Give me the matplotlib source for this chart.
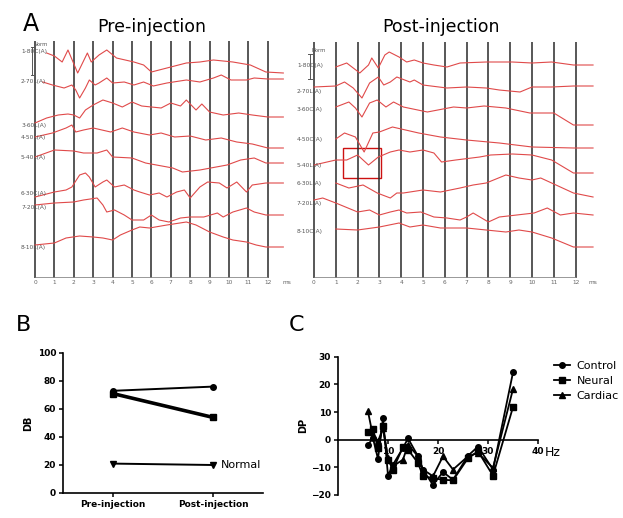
import matplotlib.pyplot as plt
from matplotlib.patches import Rectangle

# ---- panel A : traces (t in ms, display row position, downward) ----
pre_labels = ["1-80C(A)", "2-70L(A)", "3-60L(A)", "4-50L(A)", "5-40L(A)", "6-30C(A)", "7-20L(A)", "8-10L(A)"]
pre_label_y = [52, 81, 126, 137, 157, 194, 207, 247]
pre_traces = [
    [(0.6, 53), (1.0, 56), (1.4, 62), (1.7, 50), (2.2, 73), (2.7, 53), (2.9, 62), (3.3, 55), (3.7, 50), (4.2, 58),
     (5.1, 62), (5.6, 65), (6.0, 72), (7.0, 67), (7.8, 63), (8.5, 62), (9.2, 60), (10.2, 62), (11.1, 65), (11.9, 72), (12.8, 73)],
    [(0.4, 82), (0.9, 85), (1.5, 88), (1.9, 85), (2.1, 90), (2.3, 98), (2.6, 88), (2.8, 80), (3.1, 85), (3.3, 83),
     (3.7, 78), (4.0, 83), (4.6, 82), (5.1, 85), (5.6, 82), (6.1, 86), (6.8, 83), (7.8, 80), (8.5, 82), (9.2, 78),
     (9.6, 75), (10.1, 80), (10.9, 80), (11.3, 78), (12.0, 79), (12.8, 79)],
    [(0.0, 123), (0.6, 118), (1.2, 115), (1.7, 114), (2.0, 115), (2.3, 118), (2.6, 110), (3.0, 105), (3.5, 100), (4.0, 103),
     (4.5, 107), (5.0, 102), (5.5, 106), (6.0, 107), (6.5, 108), (7.0, 103), (7.5, 106), (7.8, 100), (8.3, 110), (8.6, 104),
     (9.0, 112), (9.7, 115), (10.5, 113), (11.2, 115), (12.0, 117), (12.8, 117)],
    [(0.0, 137), (0.9, 133), (1.6, 128), (1.9, 125), (2.1, 132), (2.5, 130), (3.0, 128), (3.9, 132), (4.5, 128), (5.1, 132),
     (5.9, 135), (6.5, 133), (7.2, 137), (8.0, 136), (8.8, 140), (9.6, 138), (10.4, 142), (11.2, 144), (12.0, 148), (12.8, 148)],
    [(0.0, 157), (1.0, 150), (2.0, 151), (2.5, 153), (3.2, 153), (3.7, 150), (4.0, 157), (5.0, 158), (5.7, 163), (7.1, 168),
     (7.6, 172), (8.5, 170), (9.9, 165), (10.6, 160), (11.3, 158), (11.9, 163), (12.8, 163)],
    [(0.0, 197), (1.0, 192), (1.6, 190), (1.9, 187), (2.3, 175), (2.6, 173), (2.8, 177), (3.1, 187), (3.5, 182), (3.7, 180),
     (4.1, 187), (4.6, 185), (5.1, 190), (5.4, 192), (5.9, 195), (6.4, 193), (6.8, 197), (7.3, 192), (7.7, 190), (8.0, 198),
     (8.5, 187), (8.9, 182), (9.5, 183), (9.9, 188), (10.4, 182), (10.9, 192), (11.2, 185), (11.9, 183), (12.8, 183)],
    [(0.0, 205), (1.0, 203), (2.0, 202), (2.5, 200), (3.2, 198), (3.5, 205), (3.7, 212), (4.1, 210), (4.6, 215), (5.0, 220),
     (5.6, 220), (6.0, 215), (6.4, 220), (6.9, 222), (7.5, 218), (8.0, 217), (8.7, 217), (9.4, 213), (9.7, 217), (10.2, 212),
     (10.9, 208), (11.3, 212), (11.9, 215), (12.8, 215)],
    [(0.0, 245), (1.0, 243), (1.6, 238), (2.3, 236), (3.0, 237), (3.5, 238), (4.0, 240), (4.4, 235), (5.0, 230), (5.4, 227),
     (5.9, 228), (6.8, 225), (7.8, 222), (8.3, 225), (9.0, 232), (9.7, 237), (10.2, 240), (10.9, 242), (11.4, 245), (11.9, 247), (12.8, 247)],
]

post_labels = ["1-80C(A)", "2-70L(A)", "3-60C(A)", "4-50C(A)", "5-40L(A)", "6-30L(A)", "7-20L(A)", "8-10C(A)"]
post_label_y = [65, 91, 109, 139, 166, 184, 203, 231]
post_traces = [
    [(1.0, 67), (1.5, 63), (1.8, 68), (2.1, 73), (2.5, 65), (2.65, 58), (2.95, 68), (3.25, 55), (3.45, 52), (3.9, 57),
     (4.25, 62), (4.6, 60), (5.0, 63), (5.5, 65), (6.1, 67), (6.7, 63), (7.9, 62), (9.1, 62), (10.0, 63), (10.9, 62), (11.9, 65), (12.8, 65)],
    [(0.0, 87), (1.0, 86), (1.4, 82), (1.8, 88), (2.2, 98), (2.55, 83), (2.95, 77), (3.2, 85), (3.5, 82), (3.8, 77),
     (4.4, 82), (4.6, 80), (5.0, 85), (6.1, 88), (7.0, 87), (7.9, 88), (8.5, 90), (9.45, 92), (10.0, 87), (10.9, 87), (11.9, 86), (12.8, 86)],
    [(1.0, 107), (1.6, 102), (1.9, 108), (2.2, 117), (2.55, 103), (2.9, 100), (3.3, 107), (3.65, 102), (4.1, 107), (5.2, 112),
     (6.4, 107), (7.0, 108), (7.8, 106), (8.8, 108), (9.9, 113), (11.0, 113), (11.9, 125), (12.8, 125)],
    [(1.0, 139), (1.4, 133), (1.9, 137), (2.3, 152), (2.7, 133), (3.0, 132), (3.6, 127), (4.2, 130), (4.8, 133), (5.8, 137),
     (7.0, 140), (8.5, 143), (10.0, 147), (11.9, 148), (12.8, 148)],
    [(0.0, 165), (1.0, 160), (1.5, 160), (2.0, 155), (2.5, 165), (2.95, 157), (3.5, 152), (3.9, 150), (4.4, 152), (5.0, 150),
     (5.5, 153), (5.85, 162), (6.5, 160), (7.6, 157), (8.1, 155), (9.1, 154), (10.0, 155), (10.9, 160), (11.9, 173), (12.8, 173)],
    [(1.0, 183), (1.6, 188), (2.25, 185), (2.9, 193), (3.5, 198), (3.8, 193), (4.1, 193), (5.0, 190), (5.8, 192), (6.7, 188),
     (7.3, 185), (7.9, 183), (8.8, 175), (9.4, 178), (10.0, 180), (10.4, 178), (10.9, 183), (11.9, 193), (12.8, 197)],
    [(0.0, 200), (0.4, 198), (1.0, 203), (2.0, 212), (2.55, 210), (3.0, 215), (3.5, 212), (3.9, 210), (4.25, 213), (4.9, 212),
     (5.5, 217), (6.1, 218), (6.7, 220), (7.0, 217), (7.3, 213), (8.0, 222), (8.5, 217), (9.3, 215), (10.1, 213), (10.7, 208),
     (11.3, 215), (11.9, 213), (12.8, 215)],
    [(1.0, 229), (2.0, 230), (3.0, 227), (3.9, 223), (4.4, 227), (5.0, 225), (5.8, 228), (7.0, 228), (7.9, 230), (8.8, 232),
     (9.4, 230), (10.0, 232), (10.9, 238), (11.9, 247), (12.8, 247)],
]

# ---- panel B ----
b_groups = ["Pre-injection", "Post-injection"]
b_control = [73, 76]
b_neural = [71, 54]
b_normal = [21, 20]

# ---- panel C ----
c_hz = [6, 7, 8, 9, 10, 11, 13, 14, 16, 17, 19, 21, 23, 26, 28, 31, 35]
c_control = [-1.8, 0.5, -7.0, 7.7, -13.0, -9.0, -3.0, 0.5, -6.0, -11.0, -16.3, -11.7, -14.5, -5.8, -2.5, -10.8, 24.3]
c_neural = [2.6, 3.8, -3.0, 4.8, -7.2, -10.8, -2.6, -3.6, -8.4, -13.2, -13.9, -14.5, -14.7, -6.7, -4.2, -13.0, 11.8]
c_cardiac = [10.2, 1.2, -0.6, 4.2, -6.6, -9.6, -7.2, -1.8, -6.0, -10.8, -13.2, -6.0, -10.8, -6.0, -4.8, -10.2, 18.3]

W, H = 623, 518
fig = plt.figure(figsize=(W / 100, H / 100), dpi=100)
TRACE_RED = "#e04a4a"


def trace_panel(ax, traces, labels, label_y, y_top, y_bot, label_t, ms_t, norm_t, norm_y):
    ax.vlines(range(13), y_top, y_bot, color="#2a2a2a", lw=1.1)
    ax.hlines(y_bot - 1, 0, 12, color="#888888", lw=0.6)
    for tr in traces:
        ax.plot([p[0] for p in tr], [p[1] for p in tr], color=TRACE_RED, lw=0.8)
    for lab, ly in zip(labels, label_y):
        ax.text(label_t, ly, lab, fontsize=4.2, color="#555555", va="center", ha="left")
    for k in range(13):
        ax.text(k, y_bot + 5, str(k), fontsize=4.2, color="#666666", ha="center", va="center")
    ax.text(ms_t, y_bot + 5, "ms", fontsize=4.2, color="#666666", ha="left", va="center")
    # calibration bar
    ax.plot([norm_t, norm_t], [norm_y[0], norm_y[1]], color="#555555", lw=0.7)
    ax.plot([norm_t - 0.08, norm_t + 0.08], [norm_y[0], norm_y[0]], color="#555555", lw=0.7)
    ax.plot([norm_t - 0.08, norm_t + 0.08], [norm_y[1], norm_y[1]], color="#555555", lw=0.7)
    ax.text(norm_t + 0.05, norm_y[0] - 3, "Norm", fontsize=3.8, color="#555555", ha="left", va="center")
    ax.set_ylim(290, 35)
    ax.axis("off")


ax_pre = fig.add_axes([0, (H - 290) / H, 300 / W, 255 / H])
ax_pre.set_xlim(-35 / 19.4, 265 / 19.4)
trace_panel(ax_pre, pre_traces, pre_labels, pre_label_y, 41, 278, -0.72, 12.75, -0.15, (47, 75))

ax_post = fig.add_axes([295 / W, (H - 290) / H, 328 / W, 255 / H])
ax_post.set_xlim((295 - 314) / 21.8, (623 - 314) / 21.8)
trace_panel(ax_post, post_traces, post_labels, post_label_y, 42, 278, -0.78, 12.6, -0.18, (54, 79))
ax_post.add_patch(Rectangle((1.33, 148), 1.74, 30, fill=False, edgecolor="#cc1111", lw=1.0))

fig.text(23 / W, 1 - 24 / H, "A", fontsize=17, va="center", ha="left")
fig.text(152 / W, 1 - 27 / H, "Pre-injection", fontsize=12.5, va="center", ha="center")
fig.text(441 / W, 1 - 27 / H, "Post-injection", fontsize=12.5, va="center", ha="center")
fig.text(16 / W, 1 - 325 / H, "B", fontsize=16, va="center", ha="left")
fig.text(289 / W, 1 - 325 / H, "C", fontsize=16, va="center", ha="left")

# ---- panel B ----
axb = fig.add_axes([63 / W, (H - 493) / H, 200 / W, 140 / H])
xb = range(len(b_groups))
axb.plot(xb, b_control, "k-", marker="o", ms=4, lw=1.4)
axb.plot(xb, b_neural, "k-", marker="s", ms=4, lw=2.6)
axb.plot(xb, b_normal, "k-", marker="v", ms=4, lw=1.4)
axb.text(1.08, b_normal[1], "Normal", fontsize=8, va="center", ha="left")
axb.set_xlim(-0.5, 1.5)
axb.set_ylim(0, 100)
axb.set_yticks([0, 20, 40, 60, 80, 100])
axb.set_xticks(list(xb))
axb.set_xticklabels(b_groups, fontweight="bold")
axb.set_ylabel("DB", fontsize=7, fontweight="bold", labelpad=3)
for s in ["top", "right"]:
    axb.spines[s].set_visible(False)
for s in ["left", "bottom"]:
    axb.spines[s].set_linewidth(1.2)
axb.tick_params(labelsize=6.5, width=1.1, length=3, pad=2)
for lab in axb.get_yticklabels():
    lab.set_fontweight("bold")

# ---- panel C ----
axc = fig.add_axes([338 / W, (H - 495) / H, 200 / W, 138.3 / H])
axc.plot(c_hz, c_control, "k-", marker="o", ms=4, lw=1.3, label="Control")
axc.plot(c_hz, c_neural, "k-", marker="s", ms=4, lw=1.3, label="Neural")
axc.plot(c_hz, c_cardiac, "k-", marker="^", ms=4, lw=1.3, label="Cardiac")
axc.set_xlim(0, 40)
axc.set_ylim(-20, 30)
axc.set_xticks([10, 20, 30, 40])
axc.set_yticks([-20, -10, 0, 10, 20, 30])
axc.spines["bottom"].set_position(("data", 0))
for s in ["top", "right"]:
    axc.spines[s].set_visible(False)
for s in ["left", "bottom"]:
    axc.spines[s].set_linewidth(1.2)
axc.tick_params(labelsize=6.5, width=1.1, length=3, pad=2)
for lab in axc.get_xticklabels() + axc.get_yticklabels():
    lab.set_fontweight("bold")
axc.set_ylabel("DP", fontsize=7, fontweight="bold", labelpad=2)
axc.text(41.3, -4.5, "Hz", fontsize=9, va="center", ha="left")
axc.legend(loc="upper left", bbox_to_anchor=(1.06, 1.0), frameon=False, fontsize=8,
           handlelength=1.4, handletextpad=0.6, labelspacing=0.45, borderaxespad=0)

fig.savefig("out.png", dpi=100)
